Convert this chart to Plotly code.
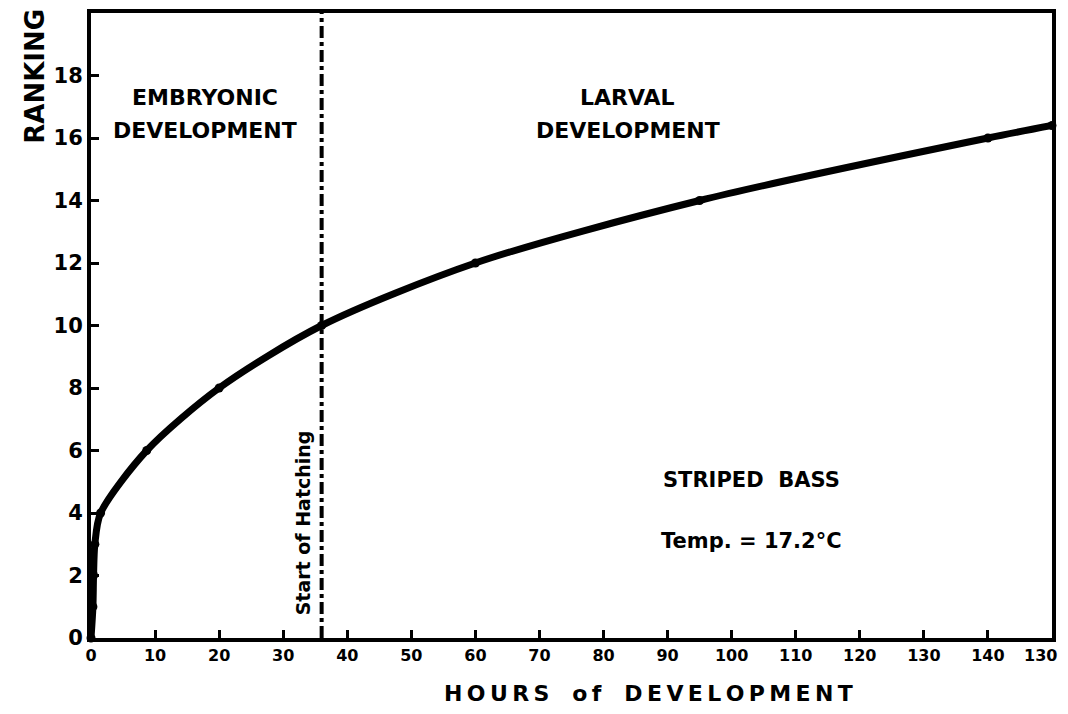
import plotly.graph_objects as go

hours = [0, 0.3, 0.4, 0.6, 1.5, 8.7, 20, 36, 60, 95, 140, 150]
ranking = [0, 1, 2, 3, 4, 6, 8, 10, 12, 14, 16, 16.4]
x_ticks = [0, 10, 20, 30, 40, 50, 60, 70, 80, 90, 100, 110, 120, 130, 140, 150]
x_tick_labels = ["0", "10", "20", "30", "40", "50", "60", "70", "80", "90", "100", "110", "120", "130", "140", "130"]
y_ticks = [0, 2, 4, 6, 8, 10, 12, 14, 16, 18]
hatch_hour = 36

FONT = "DejaVu Sans"
TS = "\u2009"  # thin space for letter spacing


def spaced(s):
    return TS.join(s)


fig = go.Figure()
fig.add_trace(go.Scatter(
    x=hours, y=ranking, mode="lines+markers",
    line=dict(color="black", width=7, shape="spline", smoothing=0.8),
    marker=dict(color="black", size=9),
    showlegend=False, hoverinfo="skip", cliponaxis=False))
fig.add_trace(go.Scatter(
    x=[hatch_hour, hatch_hour], y=[0, 20], mode="lines",
    line=dict(color="black", width=4, dash="dashdot"),
    showlegend=False, hoverinfo="skip"))

# last tick label would overflow the page edge; it is drawn as an annotation below
tick_text = [f"<b>{t}</b>" for t in x_tick_labels[:-1]] + [""]
fig.update_xaxes(range=[0, 150], tickvals=x_ticks, ticktext=tick_text,
                 ticks="inside", ticklen=8, tickwidth=3, tickcolor="black",
                 showline=True, linecolor="black", linewidth=4, mirror=True,
                 showgrid=False, zeroline=False,
                 tickfont=dict(family=FONT, size=16, color="black"))
fig.update_yaxes(range=[0, 20], tickvals=y_ticks, ticktext=[f"<b>{t}</b>" for t in y_ticks],
                 ticks="inside", ticklen=8, tickwidth=3, tickcolor="black",
                 showline=True, linecolor="black", linewidth=4, mirror=True,
                 showgrid=False, zeroline=False,
                 tickfont=dict(family=FONT, size=21, color="black"))

ann = [
    dict(x=x_ticks[-1], y=0, yshift=-17, xanchor="right", xshift=7, text=f"<b>{x_tick_labels[-1]}</b>", font=dict(size=16)),
    dict(x=17.8, y=17.29, text="<b>EMBRYONIC</b>", font=dict(size=22)),
    dict(x=17.8, y=16.24, text="<b>DEVELOPMENT</b>", font=dict(size=22)),
    dict(x=83.8, y=17.29, text="<b>LARVAL</b>", font=dict(size=22)),
    dict(x=83.8, y=16.24, text="<b>DEVELOPMENT</b>", font=dict(size=22)),
    dict(x=103.1, y=5.07, text="<b>STRIPED&nbsp;&nbsp;BASS</b>", font=dict(size=21)),
    dict(x=103.1, y=3.1, text="<b>Temp. = 17.2°C</b>", font=dict(size=21)),
    dict(x=33.1, y=3.67, text="<b>Start of Hatching</b>", font=dict(size=19), textangle=-90),
    dict(x=87, y=0, yshift=-55, yanchor="middle",
         text=f"<b>{spaced('HOURS')}&nbsp;&nbsp;&nbsp;{spaced('of')}&nbsp;&nbsp;&nbsp;{spaced('DEVELOPMENT')}</b>",
         font=dict(size=22)),
]
for a in ann:
    a.update(xref="x", yref="y", showarrow=False)
    a["font"].update(family=FONT, color="black")
    fig.add_annotation(**a)

fig.add_annotation(xref="paper", yref="paper", x=0, xshift=-73, y=0.898, yanchor="middle", text="<b>RANKING</b>",
                   textangle=-90, showarrow=False, font=dict(family=FONT, size=26, color="black"))

fig.update_layout(width=1052, height=698, margin=dict(l=83, r=8, t=1, b=68),
                  paper_bgcolor="white", plot_bgcolor="white")
fig.write_html("out.html", config={"displayModeBar": False})
